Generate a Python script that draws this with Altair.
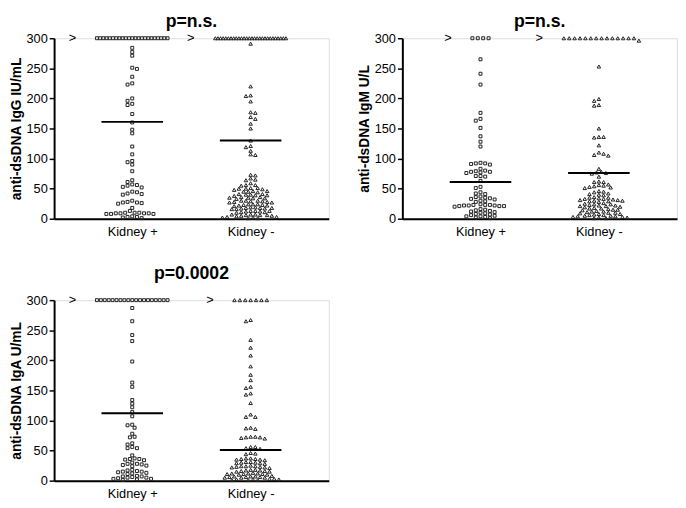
import altair as alt
import pandas as pd

# ---------------- data ----------------
CATS = ["Kidney +", "Kidney -"]
TOP_VALUE = 300          # values above the assay limit are drawn at 300 with ">"

# anti-dsDNA IgG (IU/mL)
igg_kp_over = 23
igg_kp = [284, 277, 271, 251, 249, 236, 225, 223, 200, 196, 191, 189, 174, 160,
          148, 142, 120, 107, 96, 94, 90, 79, 64, 61, 57, 56, 55, 53, 52, 45, 44,
          42, 41, 40, 30, 28, 27, 27, 26, 25, 18, 13, 10, 10, 10, 9, 9, 9, 9, 8,
          8, 8, 4, 3, 3, 2, 1]
igg_km_over = 28
igg_km = [291, 220, 205, 204, 195, 177, 176, 169, 166, 158, 150, 130, 121, 119,
          113, 107, 106, 73, 72, 67, 65, 64, 59, 56, 56, 55, 51, 51, 50, 50, 49, 48,
          46, 46, 45, 45, 44, 41, 41, 40, 40, 39, 39, 38, 36, 36, 35, 35,
          34, 34, 33, 30, 30, 30, 29, 29, 28, 28, 27, 27, 24, 24, 24,
          23, 23, 22, 22, 21, 19, 19, 18, 18, 18, 17, 17, 16,
          16, 13, 13, 13, 12, 12, 11, 11, 10, 7, 7, 7, 6, 6, 6,
          5, 5, 4, 3, 3, 2, 2, 1, 1]

# anti-dsDNA IgM (U/L)
igm_kp_over = 4
igm_kp = [265, 241, 223, 176, 166, 163, 151, 137, 128, 120, 93, 92, 92, 91, 90,
          83, 80, 79, 78, 78, 77, 76, 71, 71, 70, 63, 53, 51, 44, 42, 41, 37, 36, 35,
          34, 33, 32, 30, 29, 28, 24, 23, 23, 23, 22, 22, 22, 21, 21, 21, 20,
          16, 15, 14, 13, 12, 11, 10, 9, 8, 7, 6, 5, 4, 4, 3, 2, 1]
igm_km_over = 14
igm_km = [296, 253, 199, 196, 189, 188, 150, 136, 136, 135, 122, 110, 108, 106,
          105, 83, 78, 77, 76, 75, 70, 62, 61, 61, 57, 56, 55, 54, 53, 52, 51, 46, 45,
          44, 42, 41, 40, 39, 36, 35, 35, 34, 33, 33, 32, 31, 31, 30, 30, 29,
          29, 28, 26, 25, 24, 24, 23, 22, 22, 21, 21, 20, 19, 18, 17, 17,
          16, 15, 15, 14, 13, 12, 12, 11, 10, 10, 9, 8, 8, 7, 6, 6,
          5, 5, 4, 4, 3, 3, 2, 2, 1, 1]

# anti-dsDNA IgA (U/mL)
iga_kp_over = 19
iga_kp = [287, 265, 242, 232, 198, 163, 156, 134, 128, 122, 114, 107, 93, 92, 88,
          78, 73, 72, 62, 60, 56, 54, 54, 42, 37, 36, 36, 35, 34, 30, 28, 28, 27, 26,
          25, 24, 18, 17, 16, 15, 15, 14, 13, 12, 11, 8, 7, 7, 6, 5, 5, 4, 3, 3,
          2, 1]
iga_km_over = 7
iga_km = [267, 265, 234, 221, 208, 190, 176, 167, 156, 154, 145, 143, 129, 110,
          106, 106, 88, 87, 86, 73, 73, 72, 72, 71, 70, 56, 56, 54, 53, 46, 45, 44,
          37, 37, 36, 36, 35, 35, 34, 31, 31, 30, 30, 29, 29, 28, 25, 24, 24,
          24, 23, 23, 22, 22, 21, 18, 18, 17, 17, 16, 16, 15, 15, 13, 12,
          12, 12, 11, 11, 11, 10, 10, 8, 7, 7, 7, 6, 6, 6, 5, 5,
          5, 3, 3, 2, 2, 2, 1, 1, 1]

# group means (horizontal bars)
igg_means = [161, 130]
igm_means = [61, 76]
iga_means = [112, 51]

p_values = ["p=n.s.", "p=n.s.", "p=0.0002"]
y_titles = ["anti-dsDNA IgG IU/mL", "anti-dsDNA IgM U/L", "anti-dsDNA IgA U/mL"]
y_ticks = [0, 50, 100, 150, 200, 250, 300]

# ---------------- layout constants ----------------
W, H = 280, 184
X_DOMAIN = [0.34, 2.66]
PX_X = W / (X_DOMAIN[1] - X_DOMAIN[0])
PX_Y = H / 300.0
FONT = "Liberation Sans"
RX, RY = 4.8, 3.1   # collision radii of the swarm (px)


def swarm(values, n_over):
    """Simple beeswarm: returns list of (value, x offset in px)."""
    placed = []
    out = []
    if n_over:
        s = min(5.5, 72.0 / (n_over - 1)) if n_over > 1 else 0
        for i in range(n_over):
            off = (i - (n_over - 1) / 2) * s
            placed.append((TOP_VALUE * PX_Y, off))
            out.append((TOP_VALUE, off))
    cands = [0.0]
    for k in range(1, 40):
        cands += [k * RX / 2, -k * RX / 2]
    for idx, v in enumerate(sorted(values, reverse=True)):
        y = v * PX_Y
        order = cands if idx % 2 == 0 else [-c for c in cands]
        for c in order:
            ok = True
            for (py, px) in placed:
                dx = (c - px) / RX
                dy = (y - py) / RY
                if dx * dx + dy * dy < 0.98:
                    ok = False
                    break
            if ok:
                placed.append((y, c))
                out.append((v, c))
                break
    return out


def panel(kp, kp_over, km, km_over, means, title, ytitle, km_shape, title_offset):
    rows, gt_rows = [], []
    for ci, (vals, n_over) in enumerate([(kp, kp_over), (km, km_over)]):
        pts = swarm(vals, n_over)
        for v, off in pts:
            rows.append({"x": ci + 1 + off / PX_X, "y": v, "g": CATS[ci]})
        half = (min(5.5, 72.0 / (n_over - 1)) * (n_over - 1) / 2) if n_over > 1 else 0
        gt_rows.append({"x": ci + 1 - (half + 25) / PX_X, "y": TOP_VALUE, "t": ">"})
    df = pd.DataFrame(rows)
    dmean = pd.DataFrame({"c": [1, 2], "m": means})
    dgt = pd.DataFrame(gt_rows)

    xscale = alt.Scale(domain=X_DOMAIN, nice=False, zero=False)
    yscale = alt.Scale(domain=[0, 300], nice=False, zero=True)
    xaxis = alt.Axis(values=[1, 2], labelExpr="datum.value == 1 ? 'Kidney +' : 'Kidney -'",
                     ticks=False, grid=False, title=None, domainWidth=2,
                     domainColor="black", labelPadding=7, labelFontSize=13,
                     labelColor="black", labelFont=FONT)
    yaxis = alt.Axis(values=y_ticks, grid=False, title=ytitle,
                     domainWidth=2, domainColor="black", tickColor="black",
                     tickWidth=1.5, tickSize=5, labelPadding=2, labelFontSize=13,
                     labelColor="black", labelFont=FONT, titleFont=FONT,
                     titleFontSize=14, titleFontWeight="bold", titleColor="black",
                     titlePadding=3, labelOverlap=False)

    pts = alt.Chart(df).mark_point(filled=False, strokeWidth=1, color="#222",
                                   opacity=1).encode(
        x=alt.X("x:Q", scale=xscale, axis=xaxis),
        y=alt.Y("y:Q", scale=yscale, axis=yaxis),
        shape=alt.Shape("g:N", scale=alt.Scale(domain=CATS, range=["square", km_shape]),
                        legend=None),
        size=alt.Size("g:N", scale=alt.Scale(domain=CATS, range=[9, 13]), legend=None),
    )
    rule = alt.Chart(dmean).transform_calculate(
        x1="datum.c - 0.26", x2="datum.c + 0.26"
    ).mark_rule(strokeWidth=2, color="black").encode(
        x=alt.X("x1:Q", scale=xscale, axis=xaxis), x2="x2:Q",
        y=alt.Y("m:Q", scale=yscale, axis=yaxis))
    gt = alt.Chart(dgt).mark_text(fontSize=13, font=FONT, color="black",
                                  align="center", baseline="middle").encode(
        x=alt.X("x:Q", scale=xscale, axis=xaxis), y=alt.Y("y:Q", scale=yscale, axis=yaxis),
        text="t:N")
    return alt.layer(pts, rule, gt).properties(
        width=W, height=H,
        title=alt.TitleParams(title, fontSize=18, fontWeight="bold", font=FONT,
                              color="black", anchor="middle", frame="group",
                              offset=title_offset))


p1 = panel(igg_kp, igg_kp_over, igg_km, igg_km_over, igg_means, p_values[0], y_titles[0], "triangle-up", 1)
p2 = panel(igm_kp, igm_kp_over, igm_km, igm_km_over, igm_means, p_values[1], y_titles[1], "triangle-down", 1)
p3 = panel(iga_kp, iga_kp_over, iga_km, iga_km_over, iga_means, p_values[2], y_titles[2], "triangle-up", 12)

chart = alt.vconcat(alt.hconcat(p1, p2, spacing=27), p3, spacing=25).properties(
    padding={"left": 0, "top": 0, "right": 0, "bottom": 0}
).configure_view(strokeWidth=0).configure(background="white")

chart.save("out.html", embed_options={"renderer": "svg", "actions": False})
